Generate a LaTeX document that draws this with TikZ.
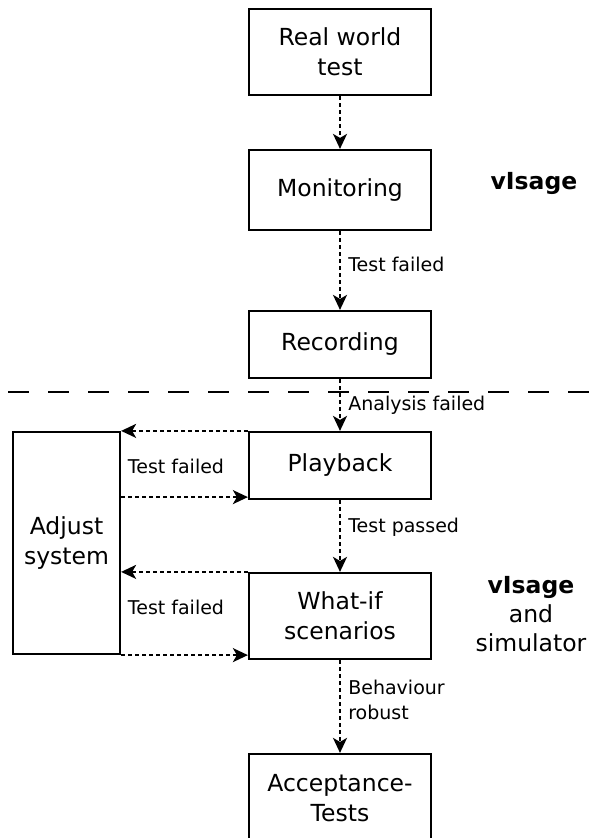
\documentclass[tikz,border=0pt]{standalone}
\usepackage{fontspec}
\setmainfont{DejaVu Sans}
\usetikzlibrary{arrows.meta}

\tikzset{
  box/.style={draw,line width=2.2pt,minimum width=182pt,inner sep=0pt,align=center,
    font=\fontsize{23.5}{30}\selectfont},
  flow/.style={line width=2pt,dash pattern=on 4pt off 3pt,
    -{Stealth[length=15pt,width=14pt,inset=4pt]}},
  lbl/.style={font=\fontsize{19}{25}\selectfont,align=left},
  big/.style={font=\fontsize{23.5}{29}\selectfont,align=center}
}

\begin{document}
\begin{tikzpicture}[x=1pt,y=-1pt]
      \useasboundingbox (0,0) rectangle (589,838);
      % Kaestchen
      \node[box,minimum height=86pt] (rw) at (340,52) {Real world\\test};
      \node[box,minimum height=80pt] (mon) at (340,190) {Monitoring};
      \node[box,minimum height=67pt] (rec) at (340,344.5) {Recording};
      \node[box,minimum height=67pt] (play) at (340,465.5) {Playback};
      \node[box,minimum height=86pt] (wi) at (340,616) {What-if\\scenarios};
      \node[box,minimum height=88pt] (acc) at (340,798) {Acceptance-\\Tests};
      \node[box,minimum width=107pt,minimum height=222pt] (adj) at (66.5,543) {Adjust\\system};
      % Texte rechts
      \node[big] (vis1) at (534,183) {\bfseries vIsage};
      \node[big] (vis2) at (531,614) {\bfseries vIsage\\and\\simulator};
      % Trennlinie
      \coordinate (t1) at (8,392);
      \coordinate (t2) at (592,392);
      \draw[line width=2.2pt,dash pattern=on 21pt off 19pt] (t1) -- (t2);
      % Pfeile nach unten
      \draw[flow] (rw) -- (mon);
      \draw[flow] (mon) -- node[lbl,right=4pt,pos=0.42] {Test failed} (rec);
      \draw[flow] (rec) -- node[lbl,right=4pt,pos=0.5] {Analysis failed} (play);
      \draw[flow] (play) -- node[lbl,right=4pt,pos=0.38] {Test passed} (wi);
      \draw[flow] (wi) -- node[lbl,right=4pt,pos=0.43] {Behaviour\\robust} (acc);
      % Schleifen
      \coordinate (p1) at ([yshift=3pt]play.south west);
      \draw[flow] (play.north west) -- (play.north west -| adj.east);
      \draw[flow] (p1 -| adj.east) -- (p1);
      \draw[flow] (wi.north west) -- (wi.north west -| adj.east);
      \draw[flow] (adj.south east) -- (adj.south east -| wi.west);
      \node[lbl] (tf1) at (176,466) {Test failed};
      \node[lbl] (tf2) at (176,607) {Test failed};
    \end{tikzpicture}
\end{document}
